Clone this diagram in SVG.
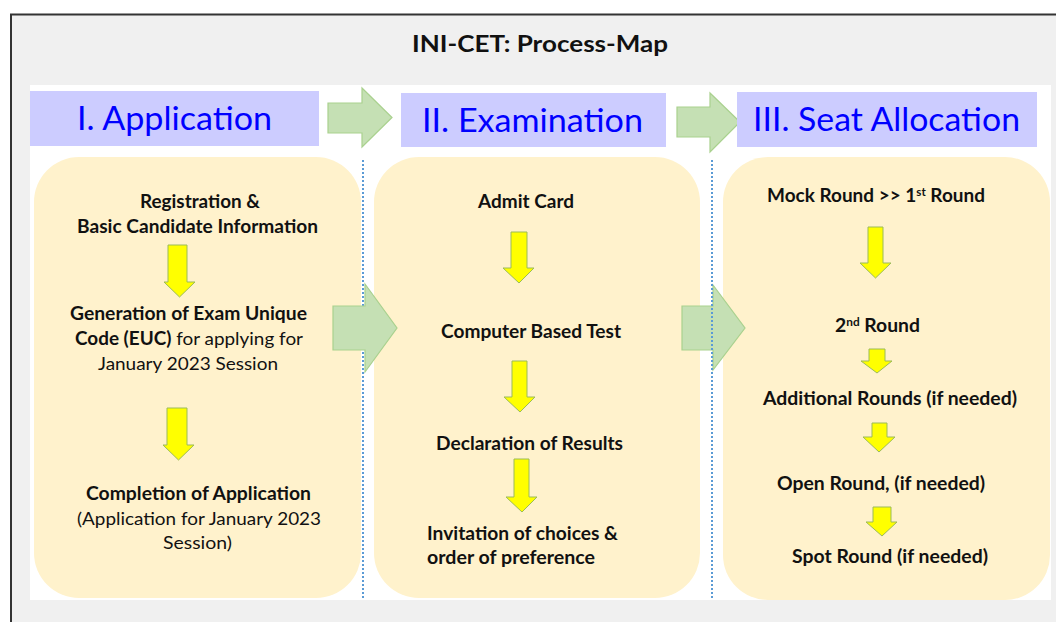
<svg xmlns="http://www.w3.org/2000/svg" width="1056" height="622" viewBox="0 0 1056 622">
  <style>
    .hdrbox { fill: #ccccff; }
    .hdr { font-family: Lato, "Open Sans", "Liberation Sans", sans-serif; font-size: 32px; fill: #0000ff; }
    .panel { fill: #fff2cc; }
    .t { font-family: Lato, "Open Sans", "Liberation Sans", sans-serif; font-size: 18px; fill: #111111; }
    .ttl { font-size: 23px; }
    .sup { font-size: 11px; }
    .b { font-weight: bold; }
    .r { font-weight: normal; }
    .ya { fill: #ffff00; stroke: #9bbb59; stroke-width: 1; }
    .ga { fill: #c5e0b4; stroke: #a9d18e; stroke-width: 1.2; }
    .dot { stroke: #5b9bd5; stroke-width: 2; stroke-dasharray: 2 2; fill: none; }
  </style>

  <!-- background frame -->
  <rect x="11" y="14.5" width="1100" height="700" fill="#f0f0f0" stroke="#333333" stroke-width="2"/>
  <rect x="30" y="85" width="1021" height="515" fill="#ffffff"/>

  <g id="title">
    <text class="t ttl b" x="412" y="52" textLength="256" lengthAdjust="spacingAndGlyphs">INI-CET: Process-Map</text>
  </g>

  <!-- panels -->
  <g id="panel-application">
    <rect class="panel" x="34" y="157" width="327" height="441" rx="45"/>
  </g>
  <g id="panel-examination">
    <rect class="panel" x="374" y="157" width="326" height="441" rx="45"/>
  </g>
  <g id="panel-seat">
    <rect class="panel" x="723" y="157" width="327" height="443" rx="45"/>
  </g>

  <!-- dotted separator 1 (under arrow) -->
  <line class="dot" x1="363" y1="160" x2="363" y2="600"/>

  <g id="connectors">
    <!-- top stage arrows -->
    <polygon class="ga" points="328,103 362,103 362,88 392,117.5 362,147 362,133 328,133"/>
    <polygon class="ga" points="677,107 710,107 710,93 740,122 710,152 710,137 677,137"/>
    <!-- middle stage arrows -->
    <polygon class="ga" points="333,306 365,306 365,284 397,328 365,372 365,350 333,350"/>
    <polygon class="ga" points="682,306 713,306 713,285 745,328 713,370 713,350 682,350"/>
    <!-- panel 1 -->
    <polygon class="ya" points="168,245 187,245 187,282 195,282 179.5,297 164,282 168,282"/>
    <polygon class="ya" points="167,408 187,408 187,445 194,445 178.5,460 163,445 167,445"/>
    <!-- panel 2 -->
    <polygon class="ya" points="511,232 527,232 527,268 534,268 519,283 503,268 511,268"/>
    <polygon class="ya" points="512,361 527,361 527,397 535,397 520,412 504,397 512,397"/>
    <polygon class="ya" points="514,459 529,459 529,497 537,497 522,512 506,497 514,497"/>
    <!-- panel 3 -->
    <polygon class="ya" points="868,227 883,227 883,263 891,263 875.5,278 860,263 868,263"/>
    <polygon class="ya" points="869,349 885,349 885,361 892,361 877,373 861,361 869,361"/>
    <polygon class="ya" points="872,423 887,423 887,437 895,437 879,452 863,437 872,437"/>
    <polygon class="ya" points="873,507 891,507 891,522 897,522 882,536 866,522 873,522"/>
  </g>

  <!-- dotted separator 2 (over arrow) -->
  <line class="dot" x1="712" y1="160" x2="712" y2="600"/>

  <!-- stage headers -->
  <g id="hdr-application">
    <rect class="hdrbox" x="30" y="91" width="289" height="55"/>
    <text class="hdr" x="77" y="130" textLength="195" lengthAdjust="spacingAndGlyphs">I. Application</text>
  </g>
  <g id="hdr-examination">
    <rect class="hdrbox" x="401" y="93" width="265" height="54"/>
    <text class="hdr" x="422" y="132" textLength="221" lengthAdjust="spacingAndGlyphs">II. Examination</text>
  </g>
  <g id="hdr-seat">
    <rect class="hdrbox" x="737" y="92" width="300" height="55"/>
    <text class="hdr" x="753" y="131" textLength="267" lengthAdjust="spacingAndGlyphs">III. Seat Allocation</text>
  </g>

  <!-- panel 1 texts -->
  <g id="n-registration">
    <text class="t b" x="140" y="208" textLength="120" lengthAdjust="spacingAndGlyphs">Registration &amp;</text>
    <text class="t b" x="77" y="233" textLength="241" lengthAdjust="spacingAndGlyphs">Basic Candidate Information</text>
  </g>
  <g id="n-euc">
    <text class="t b" x="70" y="320" textLength="237" lengthAdjust="spacingAndGlyphs">Generation of Exam Unique</text>
    <text class="t" x="75" y="345" textLength="228" lengthAdjust="spacingAndGlyphs"><tspan class="b">Code (EUC)</tspan><tspan class="r"> for applying for</tspan></text>
    <text class="t r" x="98" y="370" textLength="180" lengthAdjust="spacingAndGlyphs">January 2023 Session</text>
  </g>
  <g id="n-completion">
    <text class="t b" x="86" y="500" textLength="225" lengthAdjust="spacingAndGlyphs">Completion of Application</text>
    <text class="t r" x="77" y="525" textLength="244" lengthAdjust="spacingAndGlyphs">(Application for January 2023</text>
    <text class="t r" x="163" y="549" textLength="69" lengthAdjust="spacingAndGlyphs">Session)</text>
  </g>

  <!-- panel 2 texts -->
  <g id="n-admit">
    <text class="t b" x="478" y="208" textLength="96" lengthAdjust="spacingAndGlyphs">Admit Card</text>
  </g>
  <g id="n-cbt">
    <text class="t b" x="441" y="338" textLength="180" lengthAdjust="spacingAndGlyphs">Computer Based Test</text>
  </g>
  <g id="n-results">
    <text class="t b" x="436" y="450" textLength="187" lengthAdjust="spacingAndGlyphs">Declaration of Results</text>
  </g>
  <g id="n-choices">
    <text class="t b" x="427" y="540" textLength="191" lengthAdjust="spacingAndGlyphs">Invitation of choices &amp;</text>
    <text class="t b" x="427" y="564" textLength="168" lengthAdjust="spacingAndGlyphs">order of preference</text>
  </g>

  <!-- panel 3 texts -->
  <g id="n-round1">
    <text class="t b" x="767" y="202" textLength="218" lengthAdjust="spacingAndGlyphs">Mock Round &gt;&gt; 1<tspan class="sup" dy="-6">st</tspan><tspan dy="6"> Round</tspan></text>
  </g>
  <g id="n-round2">
    <text class="t b" x="835" y="332" textLength="85" lengthAdjust="spacingAndGlyphs">2<tspan class="sup" dy="-6">nd</tspan><tspan dy="6"> Round</tspan></text>
  </g>
  <g id="n-additional">
    <text class="t b" x="763" y="405" textLength="254" lengthAdjust="spacingAndGlyphs">Additional Rounds (if needed)</text>
  </g>
  <g id="n-open">
    <text class="t b" x="777" y="490" textLength="208" lengthAdjust="spacingAndGlyphs">Open Round, (if needed)</text>
  </g>
  <g id="n-spot">
    <text class="t b" x="792" y="563" textLength="196" lengthAdjust="spacingAndGlyphs">Spot Round (if needed)</text>
  </g>
</svg>
